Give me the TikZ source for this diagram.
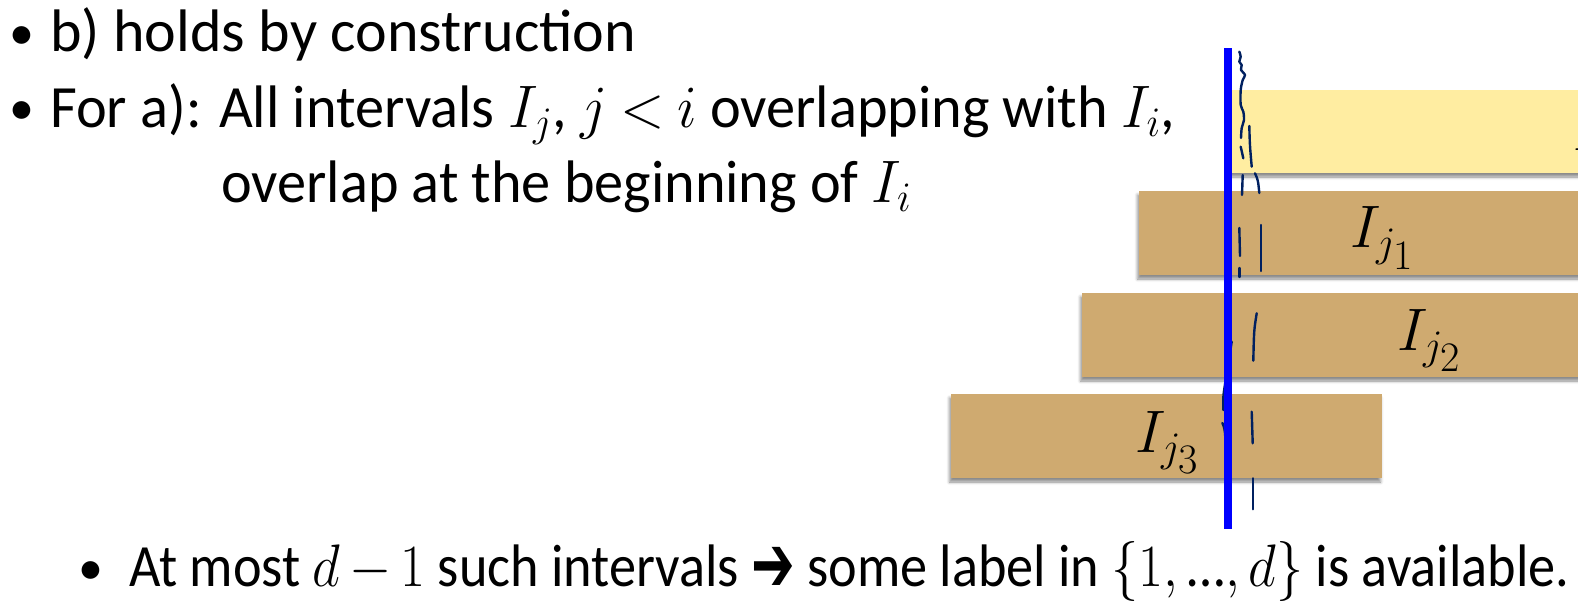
\documentclass[tikz,border=0pt]{standalone}
\usepackage{fix-cm}
\usepackage{graphicx}
\usepackage{amsmath,bm}
\usepackage{fontspec}
\setmainfont{Carlito}
\newfontfamily\arrowfont{DejaVu Sans}
\usetikzlibrary{shadows.blur}
\definecolor{navy}{RGB}{0,32,96}
\definecolor{tan}{RGB}{207,170,112}
\definecolor{pale}{RGB}{255,237,161}
\newcommand{\bigarrow}{\raisebox{-5pt}{\arrowfont\fontsize{80}{80}\selectfont\scalebox{0.72}[1]{➔}}}
% set a line of text to a fixed width, keeping its height
\newcommand{\fitline}[2]{\resizebox{#1}{\height}{#2}}
\begin{document}
\begin{tikzpicture}[x=1pt,y=-1pt,
  txt/.style={anchor=base west, inner sep=0pt, font=\fontsize{60}{72}\selectfont},
  bul/.style={anchor=base, inner sep=0pt, font=\fontsize{50}{60}\selectfont},
  lbl/.style={anchor=base west, inner sep=0pt, font=\fontsize{60}{72}\selectfont},
  ivl/.style={blur shadow={shadow xshift=-1.5pt, shadow yshift=-4pt, shadow blur radius=3pt, shadow opacity=45}},
  pen/.style={draw=navy, line width=2.4pt, line cap=round, line join=round},
]
\useasboundingbox (0,0) rectangle (1578,601);
\thickmuskip=4mu plus 2mu
\medmuskip=3mu plus 1mu

% bullet text
\node[bul] (b1) at (22,50) {•};
\node[txt] (t1) at (50,52) {b) holds by construction};
\node[bul] (b2) at (22,125) {•};
\node[txt] (t2) at (50,128) {\fitline{1125pt}{For a): All intervals $I_j$, $j<i$ overlapping with $I_i$,}};
\node[txt] (t3) at (221,203) {\fitline{690pt}{overlap at the beginning of $I_i$}};
\node[bul] (b3) at (91,584) {•};
\node[txt] (t4) at (129,586) {\smash[b]{\fitline{1440pt}{At most $d-1$ such intervals \bigarrow\ some label in $\{1,\text{…},d\}$ is available.}}};

% intervals
\fill[pale, ivl] (1229,90) rectangle (1610,173);
\fill[tan, ivl] (1139,191) rectangle (1610,275);
\fill[tan, ivl] (1082,293) rectangle (1610,377);
\fill[tan, ivl] (951,394) rectangle (1382,478);

\begin{scope}
\clip (1229,90) rectangle (1578,173);
\node[lbl] (ii) at (1573,151) {$I_i$};
\end{scope}
\node[lbl] (ij1) at (1350,248) {$I_{j_{\scriptstyle 1}}$};
\node[lbl] (ij2) at (1397,350) {$I_{j_{\scriptstyle 2}}$};
\node[lbl] (ij3) at (1135,452) {$I_{j_{\scriptstyle 3}}$};

% hand-drawn strokes
\draw[pen] plot[smooth] coordinates {(1239.3,51.7) (1240.7,56.7) (1239.3,61.7) (1241.7,65) (1241,70) (1245,75) (1242.7,80) (1240.7,90) (1240.7,105) (1243.3,111.7) (1244,120) (1241.7,128) (1241,138)};
\draw[pen] (1240.7,146.7) .. controls (1241.5,152) .. (1243.3,158.3);
\draw[pen] (1249.3,126) .. controls (1249.8,145) .. (1251.7,166.7);
\draw[pen] (1242.7,175) -- (1242,195);
\draw[pen] (1255,173.3) .. controls (1258,180) .. (1259.3,193);
\draw[pen] (1239.3,228) .. controls (1239,242) .. (1240,256);
\draw[pen] (1239.3,268) -- (1239.3,277);
\draw[pen] (1261,225) .. controls (1261.5,248) .. (1261,271);
\draw[pen] (1256.7,313.3) .. controls (1254,330) .. (1253.3,360.7);
\draw[pen] plot[smooth] coordinates {(1231.7,341.7) (1227.3,370) (1223.5,395) (1223.3,410)};
\draw[pen] plot[smooth] coordinates {(1222.3,423) (1225,433) (1226.7,470)};
\draw[pen] (1226.7,495) -- (1227.3,516.7);
\draw[pen] (1251.7,411.7) .. controls (1251.6,428) .. (1252.7,443.3);
\draw[pen] (1252.7,478.3) -- (1252.7,509.3);

% sweep line
\fill[blue] (1223.5,48) rectangle (1231.5,529);
\end{tikzpicture}
\end{document}
